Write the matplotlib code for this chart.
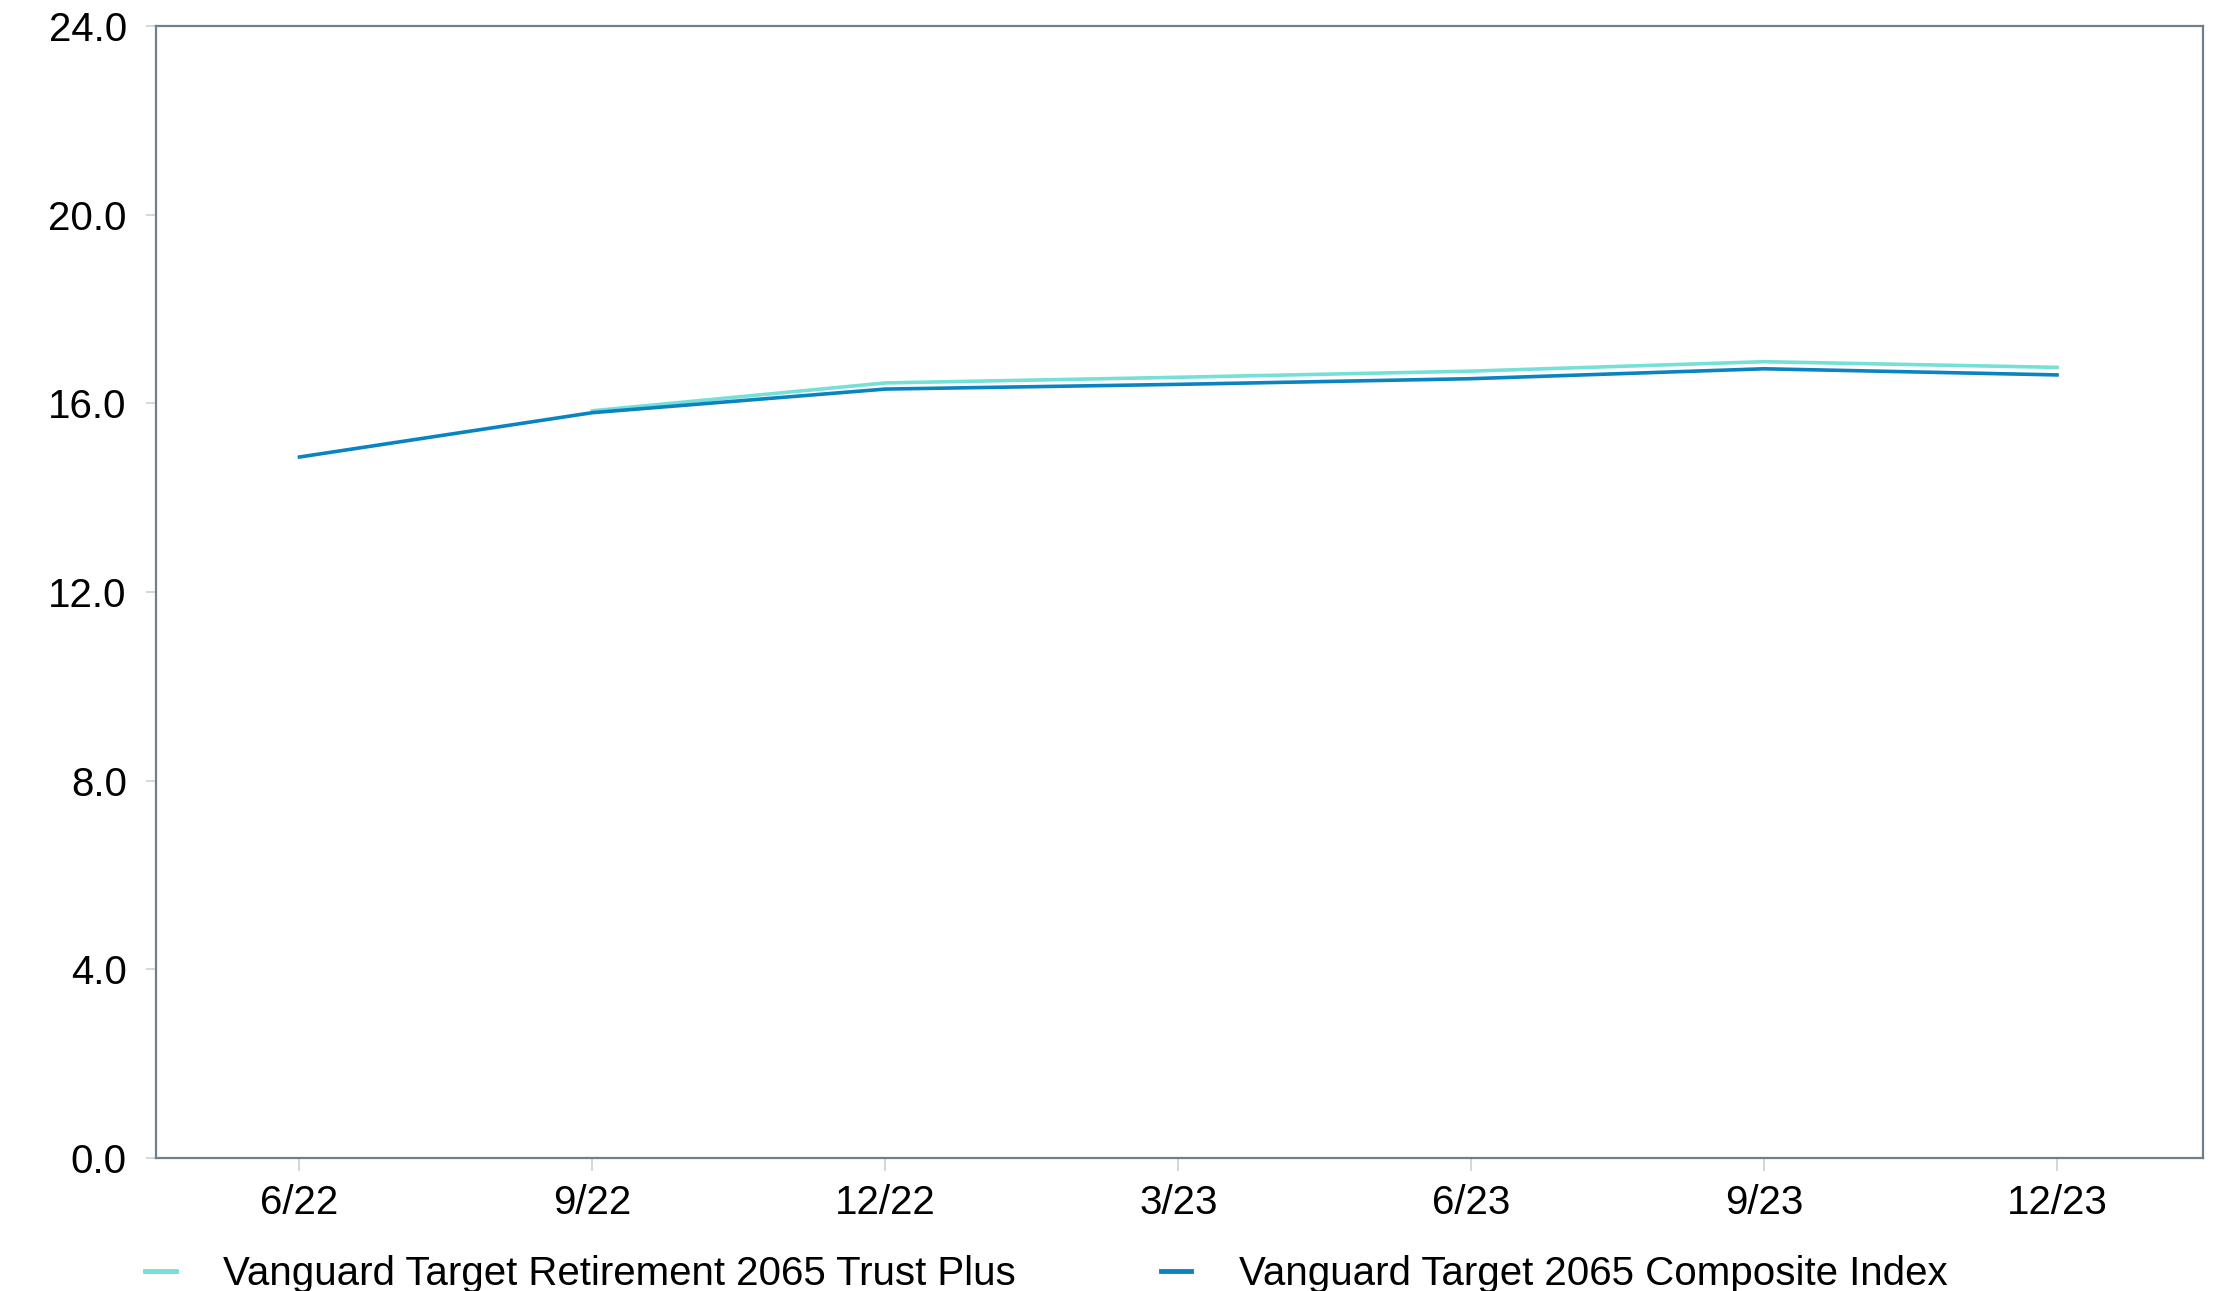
import numpy as np
import matplotlib
matplotlib.use("Agg")
import matplotlib.pyplot as plt

quarters = ["6/22", "9/22", "12/22", "3/23", "6/23", "9/23", "12/23"]
trust_plus = [np.nan, 15.84, 16.43, 16.55, 16.68, 16.88, 16.76]
composite = [14.86, 15.80, 16.30, 16.40, 16.52, 16.73, 16.60]
y_ticks = [0.0, 4.0, 8.0, 12.0, 16.0, 20.0, 24.0]
series_names = ["Vanguard Target Retirement 2065 Trust Plus",
                "Vanguard Target 2065 Composite Index"]

plt.rcParams['font.family'] = ['Liberation Sans', 'DejaVu Sans']

fig = plt.figure(figsize=(22.28, 12.91), dpi=100)
ax = fig.add_axes([0.070, 0.103, 0.919, 0.877])

x = np.arange(len(quarters))
l1, = ax.plot(x, trust_plus, color="#76e0d6", lw=2.6, label=series_names[0])
l2, = ax.plot(x, composite, color="#0a84c0", lw=2.6, label=series_names[1])

ax.set_xlim(-0.49, 6.5)
ax.set_ylim(0, 24)
ax.set_xticks(x)
ax.set_xticklabels(quarters)
ax.set_yticks(y_ticks)
ax.set_yticklabels([f"{v:.1f}" for v in y_ticks])

for s in ax.spines.values():
    s.set_color("#6f7f8c")
    s.set_linewidth(1.6)

ax.tick_params(axis='x', length=9, width=1.2, color="#d0d0d0", labelsize=29, pad=10)
ax.tick_params(axis='y', length=7, width=1.2, color="#d0d0d0", labelsize=29, pad=14)

leg = fig.legend(handles=[l1, l2], loc='center left', bbox_to_anchor=(0.058, 0.013),
                 borderaxespad=0, ncol=2, frameon=False, fontsize=29, handlelength=0.75,
                 handletextpad=1.18, columnspacing=3.6)
for h in leg.get_lines():
    h.set_linewidth(3.5)

fig.savefig("out.png", dpi=100)
